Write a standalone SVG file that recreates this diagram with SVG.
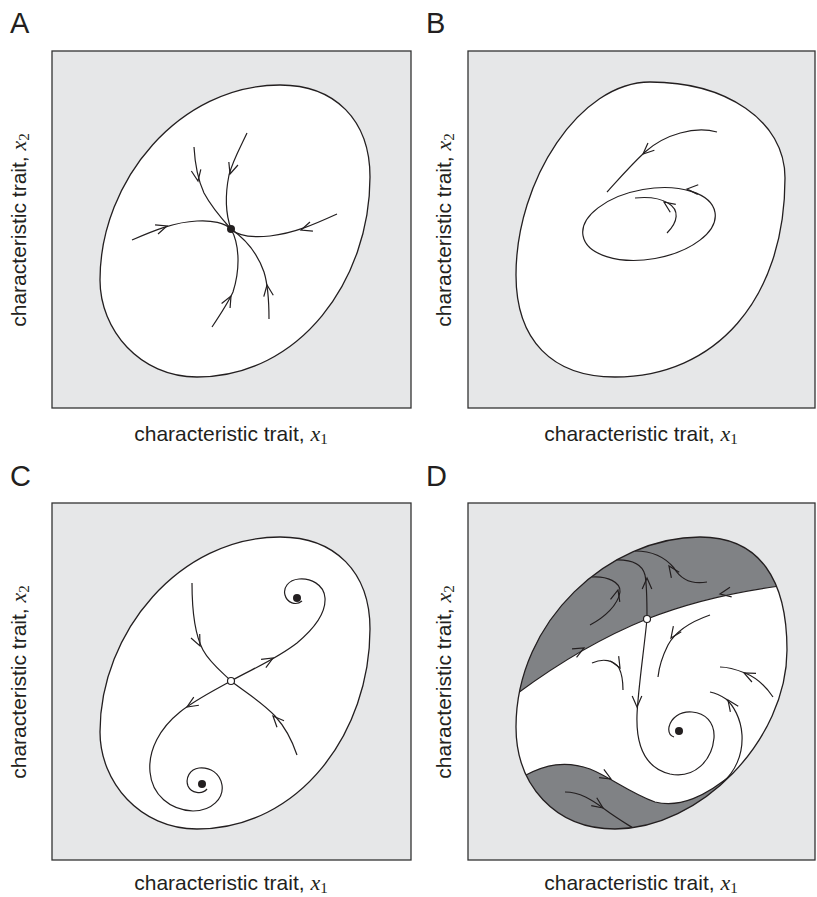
<svg xmlns="http://www.w3.org/2000/svg" xmlns:xlink="http://www.w3.org/1999/xlink" width="817" height="897" viewBox="0 0 817 897">
<style>
.frame{fill:#e6e7e8;stroke:#333;stroke-width:1.3}
.egg{fill:#fff;stroke:#231f20;stroke-width:1.3}
.eggo{fill:none;stroke:#231f20;stroke-width:1.3}
.traj{fill:none;stroke:#231f20;stroke-width:1.2}
.dark{fill:#808285}
.lab{font-family:"Liberation Sans",Arial,sans-serif;font-size:21px;fill:#231f20}
.m{font-family:"Liberation Serif","DejaVu Serif",serif;font-style:italic;font-size:22px}
.sub{font-family:"Liberation Serif","DejaVu Serif",serif;font-size:15px}
.pl{font-family:"Liberation Sans",Arial,sans-serif;font-size:29px;fill:#231f20}
.dot{fill:#231f20}
.open{fill:#fff;stroke:#231f20;stroke-width:1.2}
</style>
<defs>
<path id="ah" d="M-11,-4.8 L0,0 L-11,4.8" fill="none" stroke="#231f20" stroke-width="1.2"/>
<clipPath id="clipD"><path d="M700,537 C760,537 787,580 787,650 C787,740 700,829 615,829 C555,829 516,785 516,727 C516,620 610,537 700,537 Z"/></clipPath>
</defs>

<g id="labels">
<text class="pl" x="10" y="33">A</text>
<text class="pl" x="426" y="33">B</text>
<text class="pl" x="10" y="486">C</text>
<text class="pl" x="426" y="486">D</text>
<text class="lab" x="231" y="441" text-anchor="middle">characteristic trait, <tspan class="m">x</tspan><tspan class="sub" dy="3">1</tspan></text>
<text class="lab" x="641" y="441" text-anchor="middle">characteristic trait, <tspan class="m">x</tspan><tspan class="sub" dy="3">1</tspan></text>
<text class="lab" x="231" y="890" text-anchor="middle">characteristic trait, <tspan class="m">x</tspan><tspan class="sub" dy="3">1</tspan></text>
<text class="lab" x="641" y="890" text-anchor="middle">characteristic trait, <tspan class="m">x</tspan><tspan class="sub" dy="3">1</tspan></text>
<text class="lab" text-anchor="middle" transform="translate(26,230) rotate(-90)">characteristic trait, <tspan class="m">x</tspan><tspan class="sub" dy="3">2</tspan></text>
<text class="lab" text-anchor="middle" transform="translate(451,230) rotate(-90)">characteristic trait, <tspan class="m">x</tspan><tspan class="sub" dy="3">2</tspan></text>
<text class="lab" text-anchor="middle" transform="translate(26,682) rotate(-90)">characteristic trait, <tspan class="m">x</tspan><tspan class="sub" dy="3">2</tspan></text>
<text class="lab" text-anchor="middle" transform="translate(451,682) rotate(-90)">characteristic trait, <tspan class="m">x</tspan><tspan class="sub" dy="3">2</tspan></text>
</g>

<g id="panelA">
<rect class="frame" x="52" y="51" width="359" height="357"/>
<path class="egg" d="M280,85 C335,85 370,120 370,177 C370,280 300,377 197,377 C140,377 100,330 100,280 C100,180 180,85 280,85 Z"/>
<g id="connectorsA">
<path class="traj" d="M132,240 C155,230 175,222 197,221 C212,220 225,223 231,229"/>
<path class="traj" d="M194,147 C195,165 198,180 204,193 C212,208 222,219 231,229"/>
<path class="traj" d="M247,133 C240,148 233,160 229,175 C225,195 226,215 231,229"/>
<path class="traj" d="M337,214 C315,224 295,233 270,236 C250,238 238,236 231,229"/>
<path class="traj" d="M269,319 C269,300 268,285 264,272 C257,252 244,238 231,229"/>
<path class="traj" d="M212,327 C220,315 228,303 233,292 C240,270 240,245 231,229"/>
<use xlink:href="#ah" transform="translate(167,226) rotate(-18)"/>
<use xlink:href="#ah" transform="translate(198,181) rotate(80)"/>
<use xlink:href="#ah" transform="translate(230,174) rotate(108)"/>
<use xlink:href="#ah" transform="translate(301,230) rotate(162)"/>
<use xlink:href="#ah" transform="translate(267,285) rotate(-98)"/>
<use xlink:href="#ah" transform="translate(231,296) rotate(-62)"/>
</g>
<circle id="fixedA" class="dot" cx="231" cy="229" r="4"/>
</g>

<g id="panelB">
<rect class="frame" x="468" y="51" width="347" height="357"/>
<path class="egg" d="M650,82 C725,82 785,120 785,178 C785,300 715,377 615,377 C552,377 516,340 516,275 C516,180 580,82 650,82 Z"/>
<g id="connectorsB">
<path class="traj" d="M717,132 C695,126 665,134 645,152 C630,166 618,180 607,192"/>
<ellipse class="traj" cx="649" cy="224" rx="67" ry="35" transform="rotate(-10 649 224)"/>
<path class="traj" d="M667,233 C678,222 680,210 668,203 C658,197 645,197 635,198"/>
<use xlink:href="#ah" transform="translate(643,154) rotate(138)"/>
<use xlink:href="#ah" transform="translate(687,189) rotate(183)"/>
<use xlink:href="#ah" transform="translate(664,202) rotate(-145)"/>
</g>
</g>

<g id="panelC">
<rect class="frame" x="52" y="503" width="359" height="357"/>
<path class="egg" d="M280,537 C335,537 370,572 370,629 C370,732 300,829 197,829 C140,829 100,782 100,732 C100,632 180,537 280,537 Z"/>
<g id="connectorsC">
<path class="traj" d="M192,583 C192,610 195,635 203,650 C210,663 222,672 231,681"/>
<path class="traj" d="M297,755 C292,740 285,727 275,716 C262,702 245,692 231,681"/>
<path class="traj" d="M231,681 C250,670 275,660 297,643 C315,628 326,613 325,598 C324,584 310,578 299,579 C288,580 283,588 285,595 C287,603 296,606 302,601"/>
<path class="traj" d="M231,681 C215,690 195,700 180,712 C160,728 148,750 150,772 C152,795 170,810 193,811 C212,811 224,798 222,785 C220,773 210,767 199,768 C190,769 185,778 188,786 C191,793 202,795 207,789"/>
<use xlink:href="#ah" transform="translate(200,646) rotate(65)"/>
<use xlink:href="#ah" transform="translate(273,716) rotate(-133)"/>
<use xlink:href="#ah" transform="translate(273,658) rotate(-30)"/>
<use xlink:href="#ah" transform="translate(187,707) rotate(148)"/>
</g>
<circle class="dot" cx="297" cy="598" r="4"/>
<circle class="dot" cx="202" cy="784" r="4"/>
<circle class="open" cx="231" cy="681" r="3.5"/>
</g>

<g id="panelD">
<rect class="frame" x="468" y="503" width="347" height="357"/>
<path fill="#fff" d="M700,537 C760,537 787,580 787,650 C787,740 700,829 615,829 C555,829 516,785 516,727 C516,620 610,537 700,537 Z"/>
<g clip-path="url(#clipD)">
<path class="dark" d="M500,700 L518,693 C560,662 600,638 647,619 C690,602 735,592 780,586 L800,584 L800,520 L500,520 Z"/>
<path class="dark" d="M500,790 L526,775 C545,765 565,760 590,769 C610,777 630,793 655,802 C680,808 705,797 735,772 L800,720 L800,860 L500,860 Z"/>
<g id="connectorsD">
<path class="traj" d="M518,693 C560,662 600,638 647,619 C690,602 735,592 780,586"/>
<path class="traj" d="M526,775 C545,765 565,760 590,769 C610,777 630,793 655,802 C680,808 705,797 735,772"/>
<path class="traj" d="M590,625 C605,617 618,605 620,592 C621,582 607,576 592,577"/>
<path class="traj" d="M647,619 C647,600 647,585 645,575 C642,563 630,559 613,560"/>
<path class="traj" d="M707,582 C690,585 680,578 674,568 C665,557 652,551 635,551"/>
<path class="traj" d="M710,615 C690,622 675,632 668,645 C662,657 659,667 658,677"/>
<path class="traj" d="M592,663 C603,658 614,660 619,668 C623,676 623,684 623,690"/>
<path class="traj" d="M647,619 C644,650 638,690 637,715 C636,745 645,768 670,774 C695,779 712,760 714,738 C715,722 705,713 692,712 C680,711 671,718 669,727 C668,733 671,736 674,737"/>
<path class="traj" d="M773,697 C765,685 755,677 745,673 C735,669 727,667 720,667"/>
<path class="traj" d="M722,783 C735,772 743,755 742,735 C741,718 733,705 726,699 C720,695 715,693 710,692"/>
<path class="traj" d="M565,792 C580,792 592,800 603,808 C615,817 625,823 633,828"/>
<use xlink:href="#ah" transform="translate(584,648) rotate(-28)"/>
<use xlink:href="#ah" transform="translate(720,594) rotate(170)"/>
<use xlink:href="#ah" transform="translate(618,590) rotate(-75)"/>
<use xlink:href="#ah" transform="translate(647,578) rotate(-90)"/>
<use xlink:href="#ah" transform="translate(669,566) rotate(-125)"/>
<use xlink:href="#ah" transform="translate(671,638) rotate(125)"/>
<use xlink:href="#ah" transform="translate(620,668) rotate(60)"/>
<use xlink:href="#ah" transform="translate(637,707) rotate(90)"/>
<use xlink:href="#ah" transform="translate(744,673) rotate(-155)"/>
<use xlink:href="#ah" transform="translate(728,700) rotate(-125)"/>
<use xlink:href="#ah" transform="translate(611,779) rotate(30)"/>
<use xlink:href="#ah" transform="translate(603,808) rotate(35)"/>
</g>
</g>
<path class="eggo" d="M700,537 C760,537 787,580 787,650 C787,740 700,829 615,829 C555,829 516,785 516,727 C516,620 610,537 700,537 Z"/>
<circle class="dot" cx="679" cy="731" r="4"/>
<circle class="open" cx="647" cy="619" r="3.5"/>
</g>
</svg>
